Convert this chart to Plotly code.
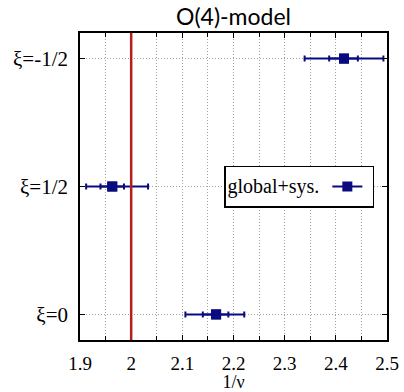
import plotly.graph_objects as go

# Data
categories = ["ξ=0", "ξ=1/2", "ξ=-1/2"]
ypos = [0, 1, 2]
values = [2.166, 1.963, 2.416]
stat_lo = [2.140, 1.940, 2.387]
stat_hi = [2.190, 1.986, 2.443]
tot_lo = [2.106, 1.912, 2.339]
tot_hi = [2.221, 2.033, 2.493]
ref_value = 2.0
x_ticks = [1.9, 2.0, 2.1, 2.2, 2.3, 2.4, 2.5]
x_ticklabels = ["1.9", "2", "2.1", "2.2", "2.3", "2.4", "2.5"]

navy = "#0a0a80"
serif = "Liberation Serif"
grid = "#a0a0a0"

fig = go.Figure()

# outer (total) error bars
fig.add_trace(go.Scatter(
    x=values, y=ypos, mode="markers",
    marker=dict(symbol="square", size=10, color=navy),
    error_x=dict(type="data", symmetric=False,
                 array=[h - v for h, v in zip(tot_hi, values)],
                 arrayminus=[v - l for l, v in zip(tot_lo, values)],
                 color=navy, thickness=2, width=3),
    showlegend=False, hoverinfo="skip"))
# inner (stat) error bars
fig.add_trace(go.Scatter(
    x=values, y=ypos, mode="markers",
    marker=dict(symbol="square", size=10, color=navy),
    error_x=dict(type="data", symmetric=False,
                 array=[h - v for h, v in zip(stat_hi, values)],
                 arrayminus=[v - l for l, v in zip(stat_lo, values)],
                 color=navy, thickness=2, width=3),
    showlegend=False, hoverinfo="skip"))
# legend entry
fig.add_trace(go.Scatter(
    x=[None], y=[None], mode="lines+markers", name="",
    marker=dict(symbol="square", size=10, color=navy),
    line=dict(color=navy, width=2), showlegend=True))

fig.add_vline(x=ref_value, line=dict(color="#b0201e", width=2.5), layer="above")

fig.update_layout(
    width=404, height=392,
    margin=dict(l=80, r=17, t=33, b=52),
    paper_bgcolor="white", plot_bgcolor="white",
    title=dict(text="O(4)-model", x=(80 + 387) / 2 / 404, xanchor="center",
               y=1 - 17 / 392, yanchor="middle",
               font=dict(family="Lato", size=23, color="black")),
    xaxis=dict(range=[1.9, 2.5], tickvals=x_ticks, ticktext=x_ticklabels,
               automargin=False, ticklabelstandoff=5,
               showgrid=True, gridcolor=grid, griddash="1px,2px", gridwidth=1,
               minor=dict(dtick=0.05, tick0=1.9, showgrid=True, gridcolor=grid,
                          griddash="1px,2px", ticks="inside", ticklen=4,
                          tickcolor="black"),
               ticks="inside", ticklen=5, tickcolor="black",
               showline=True, linecolor="black", linewidth=1.5, mirror="ticks",
               zeroline=False,
               tickfont=dict(family=serif, size=19, color="black"),
               title=dict(text="1/ν", font=dict(family=serif, size=18, color="black"),
                          standoff=0)),
    yaxis=dict(range=[-0.2, 2.2], tickvals=ypos, ticktext=categories,
               automargin=False, ticklabelstandoff=6,
               showgrid=True, gridcolor=grid, griddash="1px,2px", gridwidth=1,
               ticks="inside", ticklen=5, tickcolor="black",
               showline=True, linecolor="black", linewidth=1.5, mirror="ticks",
               zeroline=False,
               tickfont=dict(family=serif, size=21, color="black")),
    legend=dict(x=(374 - 80) / 307, xanchor="right", y=0.5, yanchor="middle",
                bgcolor="white", bordercolor="black", borderwidth=1.5,
                title=dict(text="global+sys.", side="left",
                           font=dict(family=serif, size=20, color="black")),
                font=dict(family=serif, size=20, color="black"),
                itemwidth=30, tracegroupgap=0),
)

fig.write_html("out.html")
